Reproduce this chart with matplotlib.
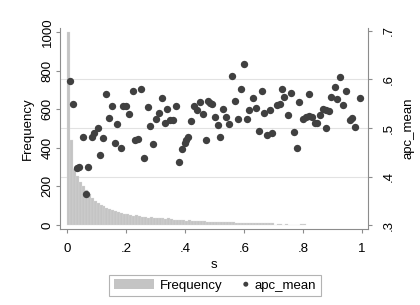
import matplotlib
matplotlib.use('Agg')
import numpy as np
import matplotlib.pyplot as plt
import matplotlib.patches as mpatches
from matplotlib.legend_handler import HandlerPatch
from matplotlib.transforms import blended_transform_factory

plt.rcParams['font.family'] = ['Liberation Sans', 'DejaVu Sans']
plt.rcParams['font.size'] = 9.5

# histogram of s (bins of width 0.01 starting at 0)
bin_width = 0.01
frequency = [1000, 440, 290, 255, 225, 200, 180, 160, 140, 125,
             112, 102, 98, 90, 84, 78, 74, 66, 62, 58,
             55, 50, 47, 50, 46, 42, 40, 38, 40, 36,
             38, 34, 35, 32, 36, 30, 28, 26, 24, 26,
             22, 24, 22, 20, 20, 19, 20, 18, 17, 16,
             16, 15, 16, 14, 14, 13, 13, 12, 12, 12,
             11, 11, 10, 10, 10, 9, 9, 9, 8, 8,
             0, 6, 6, 0, 5, 0, 0, 0, 0, 5, 5]

# apc_mean scatter
s_vals = [0.010, 0.020, 0.034, 0.041, 0.054, 0.064, 0.071, 0.085, 0.092, 0.105,
          0.112, 0.122, 0.132, 0.142, 0.153, 0.163, 0.170, 0.183, 0.190, 0.200,
          0.210, 0.224, 0.230, 0.240, 0.250, 0.261, 0.274, 0.281, 0.292, 0.300,
          0.312, 0.322, 0.332, 0.339, 0.349, 0.360, 0.370, 0.380, 0.390, 0.400,
          0.403, 0.410, 0.420, 0.430, 0.440, 0.450, 0.461, 0.471, 0.478, 0.485,
          0.490, 0.500, 0.510, 0.520, 0.530, 0.540, 0.550, 0.560, 0.570, 0.580,
          0.590, 0.600, 0.610, 0.617, 0.630, 0.640, 0.650, 0.660, 0.668, 0.678,
          0.688, 0.695, 0.712, 0.722, 0.729, 0.736, 0.749, 0.759, 0.769, 0.780,
          0.786, 0.800, 0.810, 0.820, 0.820, 0.830, 0.840, 0.847, 0.858, 0.868,
          0.878, 0.878, 0.888, 0.895, 0.908, 0.915, 0.925, 0.936, 0.946, 0.959,
          0.966, 0.976, 0.993]
apc_mean = [0.597, 0.550, 0.418, 0.420, 0.481, 0.364, 0.420, 0.481, 0.490, 0.500,
            0.444, 0.480, 0.570, 0.520, 0.545, 0.469, 0.508, 0.459, 0.545, 0.545,
            0.529, 0.576, 0.475, 0.477, 0.580, 0.438, 0.543, 0.504, 0.467, 0.518,
            0.531, 0.562, 0.510, 0.539, 0.516, 0.516, 0.545, 0.430, 0.457, 0.469,
            0.475, 0.481, 0.514, 0.545, 0.537, 0.554, 0.529, 0.475, 0.556, 0.551,
            0.550, 0.523, 0.506, 0.481, 0.539, 0.523, 0.508, 0.607, 0.556, 0.518,
            0.580, 0.632, 0.518, 0.537, 0.562, 0.541, 0.494, 0.576, 0.531, 0.486,
            0.537, 0.490, 0.547, 0.550, 0.580, 0.564, 0.527, 0.572, 0.492, 0.459,
            0.554, 0.518, 0.523, 0.525, 0.570, 0.523, 0.510, 0.510, 0.527, 0.539,
            0.537, 0.500, 0.535, 0.564, 0.585, 0.560, 0.605, 0.547, 0.576, 0.516,
            0.520, 0.502, 0.562]

x_ticks = [0, 0.2, 0.4, 0.6, 0.8, 1.0]
x_labels = ['0', '.2', '.4', '.6', '.8', '1']
freq_ticks = [0, 200, 400, 600, 800, 1000]
apc_ticks = [0.3, 0.4, 0.5, 0.6, 0.7]
apc_labels = ['.3', '.4', '.5', '.6', '.7']
grid_levels = [0.4, 0.5, 0.6]

bar_color = '#c4c4c4'
dot_color = '#404040'
axis_color = '#8c8c8c'

fig = plt.figure(figsize=(4.2, 3.05), dpi=100)
ax = fig.add_axes([0.143, 0.249, 0.733, 0.659])
ax2 = ax.twinx()

bin_left = np.arange(len(frequency)) * bin_width
ax.bar(bin_left, frequency, width=bin_width, align='edge', color=bar_color,
       edgecolor='#dedede', linewidth=0.2, zorder=1)
ax2.scatter(s_vals, apc_mean, s=28, color=dot_color, linewidths=0, zorder=3)

ax.set_xlim(-0.024, 1.02)
ax.set_ylim(-21, 1021)
ax2.set_ylim(0.2918, 0.706)

# grid lines follow the right axis, drawn under the bars
trans = blended_transform_factory(ax.transAxes, ax2.transData)
for lvl in grid_levels:
    ax.plot([0, 1], [lvl, lvl], transform=trans, color='#e2e2e2', lw=0.8, zorder=0.5)

ax.set_xticks(x_ticks, x_labels)
ax.set_yticks(freq_ticks, [str(v) for v in freq_ticks])
ax2.set_yticks(apc_ticks, apc_labels)

for a in (ax, ax2):
    a.spines['top'].set_visible(False)
ax.spines['right'].set_visible(False)
ax2.spines['left'].set_visible(False)
ax2.spines['bottom'].set_visible(False)
for sp in (ax.spines['left'], ax.spines['bottom'], ax2.spines['right']):
    sp.set_color(axis_color)
    sp.set_linewidth(0.8)

ax.tick_params(axis='x', length=3, width=0.8, color=axis_color, pad=7)
ax.tick_params(axis='y', length=3, width=0.8, color=axis_color, pad=1.5, labelrotation=90)
ax2.tick_params(axis='y', length=3, width=0.8, color=axis_color, pad=8, labelrotation=90)
plt.setp(ax.get_yticklabels(), va='center')
plt.setp(ax2.get_yticklabels(), va='center')

ax.set_xlabel('s', labelpad=3)
ax.set_ylabel('Frequency', labelpad=6)
ax2.set_ylabel('apc_mean', labelpad=5)


def dot_at_end(legend, orig_handle, xdescent, ydescent, width, height, fontsize):
    return mpatches.Circle((width - xdescent - 2, height / 2 - ydescent), 1.8)


freq_handle = mpatches.Rectangle((0, 0), 1, 1, facecolor=bar_color, edgecolor='none')
dot_handle = mpatches.Circle((0, 0), 1, facecolor=dot_color, edgecolor='none')
leg = fig.legend([freq_handle, dot_handle], ['Frequency', 'apc_mean'],
                 handler_map={mpatches.Circle: HandlerPatch(patch_func=dot_at_end)},
                 ncol=2, loc='center', bbox_to_anchor=(0.512, 0.064),
                 frameon=True, fancybox=False, edgecolor='#a0a0a0',
                 handlelength=3, handleheight=0.8, handletextpad=0.45,
                 columnspacing=-1.0, borderpad=0.35, borderaxespad=0)
leg.get_frame().set_linewidth(0.8)

fig.savefig('out.png', dpi=100)
